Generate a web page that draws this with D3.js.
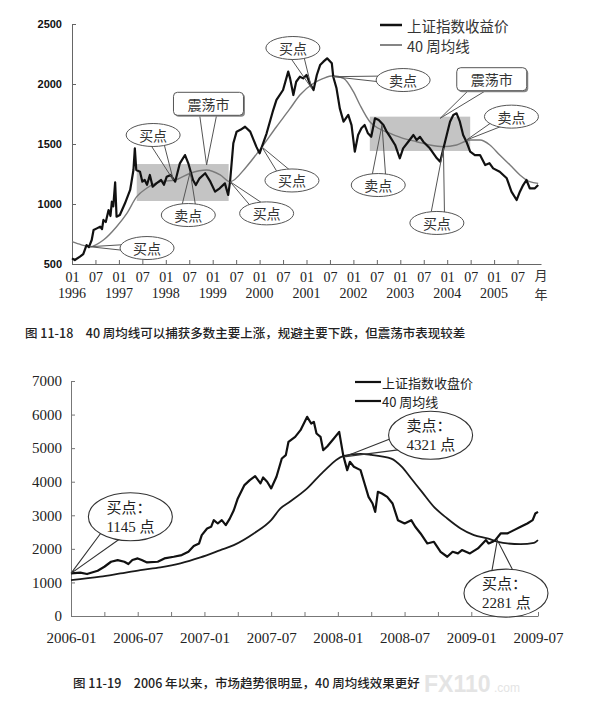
<!DOCTYPE html>
<html>
<head>
<meta charset="utf-8">
<script src="https://cdn.jsdelivr.net/npm/d3@7"></script>
<style>
  body { margin: 0; background: #fff; }
  svg { display: block; }
</style>
</head>
<body>
<div id="chart"></div>
<script>
// ---- 图 11-18: 1996-2005 上证指数 + 40 周均线 (时间用小数年) ----
const topCloseT = [1996.00,1996.06,1996.17,1996.24,1996.31,1996.36,1996.42,1996.46,1996.53,1996.60,1996.64,1996.67,1996.72,1996.78,1996.82,1996.85,1996.88,1996.92,1996.95,1997.02,1997.13,1997.24,1997.31,1997.34,1997.37,1997.45,1997.50,1997.55,1997.60,1997.66,1997.72,1997.80,1997.90,1997.96,1998.02,1998.10,1998.20,1998.30,1998.41,1998.48,1998.58,1998.64,1998.72,1998.84,1998.95,1999.05,1999.15,1999.26,1999.33,1999.37,1999.44,1999.51,1999.60,1999.69,1999.80,1999.93,2000.00,2000.05,2000.15,2000.29,2000.36,2000.50,2000.61,2000.65,2000.72,2000.78,2000.86,2000.93,2001.00,2001.07,2001.15,2001.22,2001.29,2001.36,2001.44,2001.54,2001.57,2001.64,2001.71,2001.79,2001.89,2001.96,2002.03,2002.10,2002.17,2002.24,2002.31,2002.38,2002.46,2002.54,2002.64,2002.71,2002.78,2002.89,2002.99,2003.06,2003.17,2003.28,2003.35,2003.42,2003.49,2003.63,2003.78,2003.85,2003.92,2003.99,2004.06,2004.13,2004.20,2004.27,2004.34,2004.41,2004.49,2004.59,2004.70,2004.81,2004.90,2004.98,2005.12,2005.27,2005.37,2005.48,2005.55,2005.62,2005.69,2005.76,2005.87,2005.94];
const topCloseV = [547,533,561,583,658,640,700,783,797,811,790,867,850,950,900,1019,980,1180,894,908,1006,1117,1283,1464,1283,1269,1186,1200,1160,1242,1144,1172,1200,1160,1228,1242,1186,1339,1408,1339,1200,1158,1214,1256,1186,1103,1131,1172,1075,1186,1506,1603,1620,1644,1603,1478,1422,1478,1589,1783,1867,1950,2103,2047,1908,2019,2061,2047,2075,2006,1950,2075,2158,2186,2214,2172,2061,1964,1797,1686,1742,1658,1436,1575,1631,1658,1589,1560,1714,1700,1658,1603,1561,1492,1381,1464,1519,1575,1533,1560,1519,1464,1381,1353,1464,1575,1686,1742,1756,1686,1575,1519,1436,1408,1408,1325,1340,1297,1269,1214,1103,1033,1103,1158,1200,1131,1131,1158];
const topMaT = [1996.00,1996.20,1996.38,1996.67,1996.95,1997.17,1997.38,1997.59,1997.88,1998.20,1998.52,1998.87,1999.16,1999.37,1999.72,2000.00,2000.36,2000.64,2000.86,2001.15,2001.36,2001.57,2001.79,2002.00,2002.14,2002.35,2002.53,2002.78,2003.06,2003.35,2003.63,2003.92,2004.20,2004.49,2004.70,2004.91,2005.12,2005.34,2005.55,2005.76,2005.94];
const topMaV = [686,660,644,700,811,922,1061,1131,1186,1200,1256,1283,1242,1186,1311,1450,1644,1790,1908,2006,2047,2069,2047,1936,1825,1686,1631,1589,1547,1519,1492,1478,1492,1533,1533,1492,1408,1325,1242,1186,1172];
// 震荡市 阴影区: [起, 止, 下沿, 上沿]
const topRangeBoxes = [[1997.38, 1999.34, 1025, 1333], [2002.35, 2004.49, 1442, 1728]];
const topYTicks = [500, 1000, 1500, 2000, 2500];
const topMonthLabels = ['01', '07'];
const topYearLabels = ['1996','1997','1998','1999','2000','2001','2002','2003','2004','2005'];
const topLegend = ['上证指数收益价', '40 周均线'];
// 标注: 文字, 标签位置 at, 指向 to (都是 [年, 点数])
const topNotes = [
  { text: '买点',  kind: 'ellipse', at: [1997.60, 633],  to: [1996.38, 644] },
  { text: '买点',  kind: 'ellipse', at: [1997.73, 1575], to: [1998.16, 1200] },
  { text: '震荡市', kind: 'box',     at: [1998.91, 1835], to: [1998.87, 1325] },
  { text: '卖点',  kind: 'ellipse', at: [1998.48, 908],  to: [1998.52, 1267] },
  { text: '买点',  kind: 'ellipse', at: [2000.15, 922],  to: [1999.37, 1186] },
  { text: '买点',  kind: 'ellipse', at: [2000.69, 1196], to: [2000.05, 1475] },
  { text: '买点',  kind: 'ellipse', at: [2000.71, 2300], to: [2001.11, 1964] },
  { text: '卖点',  kind: 'ellipse', at: [2003.06, 2033], to: [2001.57, 2061] },
  { text: '震荡市', kind: 'box',     at: [2004.95, 2040], to: [2003.85, 1714] },
  { text: '卖点',  kind: 'ellipse', at: [2005.37, 1728], to: [2004.41, 1533] },
  { text: '卖点',  kind: 'ellipse', at: [2002.53, 1158], to: [2002.61, 1658] },
  { text: '买点',  kind: 'ellipse', at: [2003.78, 842],  to: [2003.92, 1464] }
];
const topCaption = '图 11-18　40 周均线可以捕获多数主要上涨，规避主要下跌，但震荡市表现较差';

// ---- 图 11-19: 2006-2009 ----
const botCloseT = [2006.00,2006.07,2006.12,2006.20,2006.25,2006.30,2006.35,2006.40,2006.43,2006.46,2006.50,2006.53,2006.57,2006.65,2006.70,2006.77,2006.83,2006.88,2006.92,2006.96,2006.98,2007.02,2007.05,2007.07,2007.10,2007.13,2007.16,2007.19,2007.22,2007.25,2007.30,2007.34,2007.38,2007.42,2007.44,2007.47,2007.50,2007.54,2007.58,2007.61,2007.63,2007.68,2007.72,2007.77,2007.80,2007.82,2007.84,2007.87,2007.89,2007.92,2007.97,2008.01,2008.04,2008.07,2008.09,2008.12,2008.17,2008.20,2008.23,2008.26,2008.28,2008.30,2008.33,2008.37,2008.41,2008.45,2008.50,2008.55,2008.58,2008.62,2008.67,2008.72,2008.77,2008.82,2008.86,2008.90,2008.93,2008.96,2008.99,2009.05,2009.11,2009.13,2009.16,2009.18,2009.22,2009.27,2009.32,2009.37,2009.42,2009.46,2009.48,2009.50];
const botCloseV = [1269,1290,1250,1350,1467,1616,1666,1616,1547,1666,1715,1666,1596,1616,1715,1765,1814,1913,2082,2161,2409,2608,2657,2855,2756,2855,2707,2900,3150,3503,3899,4048,4167,3949,4127,4000,3800,4147,4692,4792,5188,5337,5536,5932,5734,5784,5437,5337,4940,5050,5288,5486,4792,4345,4593,4444,4345,3946,3549,3351,3103,3698,3649,3549,3351,2855,2756,2855,2657,2459,2161,2211,1913,1765,1913,1864,1963,1913,1864,2013,2261,2161,2211,2261,2459,2459,2558,2657,2756,2855,3054,3103];
const botMaT = [2006.00,2006.22,2006.37,2006.52,2006.67,2006.82,2006.97,2007.12,2007.22,2007.37,2007.50,2007.57,2007.64,2007.77,2007.89,2008.04,2008.17,2008.25,2008.40,2008.48,2008.55,2008.63,2008.72,2008.82,2008.92,2009.02,2009.12,2009.20,2009.27,2009.37,2009.47,2009.50];
const botMaV = [1071,1170,1269,1368,1448,1567,1745,1963,2112,2459,2855,3205,3402,3800,4295,4762,4830,4800,4690,4442,4095,3698,3252,2905,2608,2409,2310,2211,2161,2142,2181,2261];
const botYTicks = [0,1000,2000,3000,4000,5000,6000,7000];
const botXLabels = ['2006-01','2006-07','2007-01','2007-07','2008-01','2008-07','2009-01','2009-07'];
const botLegend = ['上证指数收盘价', '40 周均线'];
const botNotes = [
  { lines: ['买点：', '1145 点'], at: [2006.445, 2955], to: [2006.00, 1269] },
  { lines: ['卖点：', '4321 点'], at: [2008.695, 5384], to: [2008.045, 4739] },
  { lines: ['买点：', '2281 点'], at: [2009.26, 680],  to: [2009.195, 2261] }
];
const botCaption = '图 11-19　2006 年以来，市场趋势很明显，40 周均线效果更好';

const SERIF = '"Liberation Serif", "Noto Sans CJK SC", serif';
const CJK = '"Noto Sans CJK SC", "Liberation Serif", serif';

const svg = d3.select('#chart').append('svg')
  .attr('width', 616)
  .attr('height', 703);

// 标注: 先画尖角, 再画白底外框盖住, 最后写字
function drawNotes(g, notes, x, y, opt) {
  notes.forEach(n => {
    const cx = x(n.at[0]), cy = y(n.at[1]);
    const tx = x(n.to[0]), ty = y(n.to[1]);
    const isBox = n.kind === 'box';
    const rx = isBox ? opt.boxW / 2 : opt.rx;
    const ry = isBox ? opt.boxH / 2 : opt.ry;
    const a = Math.atan2((ty - cy) / ry, (tx - cx) / rx);
    const p1 = [cx + rx * 0.9 * Math.cos(a - opt.spread), cy + ry * 0.9 * Math.sin(a - opt.spread)];
    const p2 = [cx + rx * 0.9 * Math.cos(a + opt.spread), cy + ry * 0.9 * Math.sin(a + opt.spread)];
    g.append('path')
      .attr('d', `M${p1[0]},${p1[1]}L${tx},${ty}L${p2[0]},${p2[1]}`)
      .attr('fill', 'none')
      .attr('stroke', opt.stroke)
      .attr('stroke-width', opt.sw);

    if (isBox) {
      g.append('rect')
        .attr('x', cx - rx + 1.5).attr('y', cy - ry + 1.5)
        .attr('width', rx * 2).attr('height', ry * 2)
        .attr('rx', 4)
        .attr('fill', '#888');
      g.append('rect')
        .attr('x', cx - rx).attr('y', cy - ry)
        .attr('width', rx * 2).attr('height', ry * 2)
        .attr('rx', 4)
        .attr('fill', '#fff')
        .attr('stroke', '#555')
        .attr('stroke-width', 1);
    } else {
      g.append('ellipse')
        .attr('cx', cx).attr('cy', cy)
        .attr('rx', rx).attr('ry', ry)
        .attr('fill', '#fff')
        .attr('stroke', opt.stroke)
        .attr('stroke-width', opt.sw);
    }

    if (n.text) {
      g.append('text')
        .attr('x', cx).attr('y', cy)
        .attr('text-anchor', 'middle')
        .attr('dominant-baseline', 'central')
        .style('font-family', CJK)
        .style('font-size', opt.fontSize + 'px')
        .style('fill', '#333')
        .text(n.text);
    } else {
      n.lines.forEach((t, i) => {
        g.append('text')
          .attr('x', cx - 24).attr('y', cy + (i === 0 ? -9 : 10))
          .attr('dominant-baseline', 'central')
          .style('font-family', SERIF)
          .style('font-size', opt.fontSize + 'px')
          .style('fill', '#222')
          .text(t);
      });
    }
  });
}

// ================= 上图 =================
const x1 = d3.scaleLinear().domain([1996, 2006]).range([72, 541]);
const y1 = d3.scaleLinear().domain([500, 2500]).range([264, 24]);
const g1 = svg.append('g');

// 阴影区 (震荡市)
g1.append('g').selectAll('rect')
  .data(topRangeBoxes)
  .join('rect')
  .attr('x', d => x1(d[0]))
  .attr('y', d => y1(d[3]))
  .attr('width', d => x1(d[1]) - x1(d[0]))
  .attr('height', d => y1(d[2]) - y1(d[3]))
  .attr('fill', '#c4c4c4');

// 坐标轴
const ax1 = g1.append('g')
  .attr('transform', `translate(${x1(1996)},0)`)
  .call(d3.axisLeft(y1).tickValues(topYTicks).tickFormat(d3.format('d'))
    .tickSize(-4).tickSizeOuter(0).tickPadding(10));
ax1.selectAll('text')
  .style('font-family', '"Liberation Sans", Arial, sans-serif')
  .style('font-weight', 'bold')
  .style('font-size', '11px')
  .style('fill', '#111');
ax1.selectAll('path, line').attr('stroke', '#666');

const bx1 = g1.append('g')
  .attr('transform', `translate(0,${y1(500)})`)
  .call(d3.axisBottom(x1)
    .tickValues(d3.range(1996, 2006, 0.5))
    .tickSize(-4).tickSizeOuter(0).tickPadding(8)
    .tickFormat((d, i) => topMonthLabels[i % 2]));
bx1.selectAll('text')
  .style('font-family', SERIF)
  .style('font-size', '14px')
  .style('fill', '#222');
bx1.selectAll('path, line').attr('stroke', '#666');

g1.append('g').selectAll('text')
  .data(topYearLabels)
  .join('text')
  .attr('x', (d, i) => x1(1996 + i))
  .attr('y', 298)
  .attr('text-anchor', 'middle')
  .style('font-family', SERIF)
  .style('font-size', '14px')
  .style('fill', '#222')
  .text(d => d);
g1.append('text').attr('x', x1(2006)).attr('y', 280).attr('text-anchor', 'middle')
  .style('font-family', CJK).style('font-size', '13px').style('fill', '#333').text('月');
g1.append('text').attr('x', x1(2006)).attr('y', 299).attr('text-anchor', 'middle')
  .style('font-family', CJK).style('font-size', '13px').style('fill', '#333').text('年');

// 曲线
const line1 = d3.line().x(d => x1(d[0])).y(d => y1(d[1]));
g1.append('path')
  .datum(d3.zip(topMaT, topMaV))
  .attr('d', line1.curve(d3.curveMonotoneX))
  .attr('fill', 'none')
  .attr('stroke', '#7a7a7a')
  .attr('stroke-width', 1.4);
g1.append('path')
  .datum(d3.zip(topCloseT, topCloseV))
  .attr('d', line1.curve(d3.curveLinear))
  .attr('fill', 'none')
  .attr('stroke', '#111')
  .attr('stroke-width', 2.2)
  .attr('stroke-linejoin', 'round');

// 图例
const lg1 = g1.append('g').attr('transform', 'translate(380,25)');
topLegend.forEach((t, i) => {
  lg1.append('line')
    .attr('x1', 0).attr('x2', 22)
    .attr('y1', i * 20).attr('y2', i * 20)
    .attr('stroke', i === 0 ? '#111' : '#666')
    .attr('stroke-width', i === 0 ? 2.5 : 1.6);
  lg1.append('text')
    .attr('x', 27).attr('y', i * 20)
    .attr('dominant-baseline', 'central')
    .style('font-family', CJK)
    .style('font-size', '14.5px')
    .style('fill', '#333')
    .text(t);
});

drawNotes(g1.append('g'), topNotes, x1, y1,
  { rx: 27, ry: 11.5, boxW: 70, boxH: 23, spread: 0.28, stroke: '#555', sw: 1, fontSize: 14 });

svg.append('text')
  .attr('x', 25).attr('y', 338)
  .style('font-family', CJK)
  .style('font-size', '12.5px')
  .style('font-weight', 500)
  .style('fill', '#222')
  .text(topCaption);

// ================= 下图 =================
const x2 = d3.scaleLinear().domain([2006, 2009.5]).range([71, 538]);
const y2 = d3.scaleLinear().domain([0, 7000]).range([616, 381]);
const g2 = svg.append('g');

const ax2 = g2.append('g')
  .attr('transform', `translate(${x2(2006)},0)`)
  .call(d3.axisLeft(y2).tickValues(botYTicks).tickFormat(d3.format('d'))
    .tickSize(-4).tickSizeOuter(0).tickPadding(9));
ax2.selectAll('text')
  .style('font-family', SERIF)
  .style('font-size', '15px')
  .style('fill', '#222');
ax2.selectAll('path, line').attr('stroke', '#777');

const bx2 = g2.append('g')
  .attr('transform', `translate(0,${y2(0)})`)
  .call(d3.axisBottom(x2)
    .tickValues(d3.range(2006, 2009.51, 0.25))
    .tickSize(-4).tickSizeOuter(0).tickPadding(16)
    .tickFormat((d, i) => i % 2 === 0 ? botXLabels[i / 2] : ''));
bx2.selectAll('text')
  .style('font-family', SERIF)
  .style('font-size', '15px')
  .style('fill', '#222');
bx2.selectAll('path, line').attr('stroke', '#777');

const line2 = d3.line().x(d => x2(d[0])).y(d => y2(d[1]));
g2.append('path')
  .datum(d3.zip(botMaT, botMaV))
  .attr('d', line2.curve(d3.curveMonotoneX))
  .attr('fill', 'none')
  .attr('stroke', '#1a1a1a')
  .attr('stroke-width', 1.8);
g2.append('path')
  .datum(d3.zip(botCloseT, botCloseV))
  .attr('d', line2.curve(d3.curveLinear))
  .attr('fill', 'none')
  .attr('stroke', '#111')
  .attr('stroke-width', 2.2)
  .attr('stroke-linejoin', 'round');

const lg2 = g2.append('g').attr('transform', 'translate(355,382)');
botLegend.forEach((t, i) => {
  lg2.append('line')
    .attr('x1', 0).attr('x2', 26)
    .attr('y1', i * 19).attr('y2', i * 19)
    .attr('stroke', '#111')
    .attr('stroke-width', 2.2);
  lg2.append('text')
    .attr('x', 27).attr('y', i * 19)
    .attr('dominant-baseline', 'central')
    .style('font-family', CJK)
    .style('font-size', '13px')
    .style('fill', '#222')
    .text(t);
});

drawNotes(g2.append('g'), botNotes, x2, y2,
  { rx: 42, ry: 24, spread: 0.3, stroke: '#333', sw: 1.1, fontSize: 15 });

svg.append('text')
  .attr('x', 73).attr('y', 688)
  .style('font-family', CJK)
  .style('font-size', '12.5px')
  .style('font-weight', 500)
  .style('fill', '#222')
  .text(botCaption);

// 水印
const wm = svg.append('g').attr('transform', 'translate(424,692)');
wm.append('text')
  .style('font-family', '"Liberation Sans", Arial, sans-serif')
  .style('font-weight', 'bold')
  .style('font-size', '23px')
  .style('fill', '#e4e4e4')
  .text('FX110');
wm.append('text')
  .attr('x', 70)
  .style('font-family', '"Liberation Sans", Arial, sans-serif')
  .style('font-size', '12px')
  .style('fill', '#e4e4e4')
  .text('.com');
</script>
</body>
</html>
